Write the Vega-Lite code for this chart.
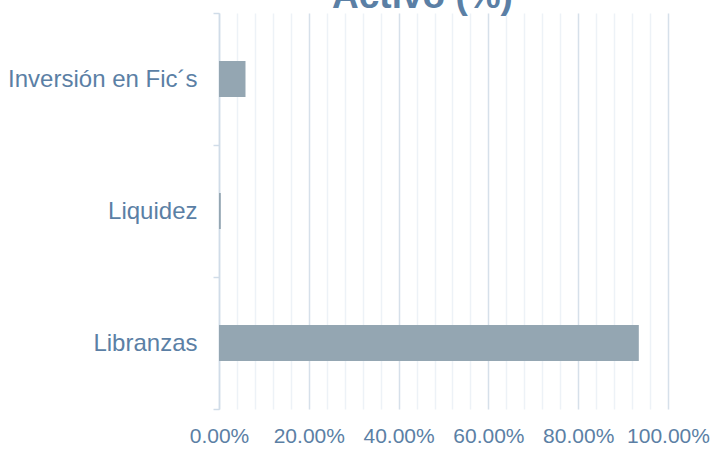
{
  "$schema": "https://vega.github.io/schema/vega-lite/v6.json",
  "autosize": {"type": "none"},
  "width": 449,
  "height": 396,
  "padding": {"left": 219, "top": 13, "right": 42, "bottom": 42},
  "background": "#ffffff",
  "title": {
    "text": "Activo (%)",
    "fontSize": 37,
    "fontWeight": "bold",
    "font": "Liberation Sans",
    "color": "#5b7fa5",
    "baseline": "alphabetic",
    "offset": 0,
    "dy": 44,
    "dx": -21
  },
  "data": {
    "values": [
      {"categoria": "Inversión en Fic´s", "valor": 0.059},
      {"categoria": "Liquidez", "valor": 0.004},
      {"categoria": "Libranzas", "valor": 0.935}
    ]
  },
  "mark": {"type": "bar", "color": "#94a6b2", "height": {"band": 0.273}},
  "encoding": {
    "y": {
      "field": "categoria",
      "type": "nominal",
      "sort": ["Inversión en Fic´s", "Liquidez", "Libranzas"],
      "scale": {"paddingInner": 0, "paddingOuter": 0},
      "axis": {
        "title": null,
        "labelFont": "Liberation Sans",
        "labelFontSize": 24,
        "labelColor": "#5b7fa5",
        "labelPadding": 16,
        "labelLimit": 300,
        "tickSize": 6,
        "tickColor": "#d0dce8",
        "tickWidth": 1.5,
        "tickBand": "extent",
        "domainColor": "#d0dce8",
        "domainWidth": 1.5,
        "grid": false
      }
    },
    "x": {
      "field": "valor",
      "type": "quantitative",
      "scale": {"domain": [0, 1], "nice": false},
      "axis": {
        "title": null,
        "values": [0, 0.04, 0.08, 0.12, 0.16, 0.2, 0.24, 0.28, 0.32, 0.36, 0.4, 0.44, 0.48, 0.52, 0.56, 0.6, 0.64, 0.68, 0.72, 0.76, 0.8, 0.84, 0.88, 0.92, 0.96, 1.0],
        "labelExpr": "round(datum.value*100) % 20 === 0 ? format(datum.value, '.2%') : ''",
        "labelFont": "Liberation Sans",
        "labelFontSize": 21,
        "labelColor": "#5b7fa5",
        "labelBaseline": "alphabetic",
        "labelPadding": 33,
        "labelOverlap": false,
        "labelFlush": false,
        "labelAlign": "center",
        "ticks": false,
        "tickSize": 0,
        "domain": false,
        "grid": true,
        "gridWidth": 1.5,
        "gridColor": {"condition": {"test": "round(datum.value*100) % 20 === 0", "value": "#d6e0ea"}, "value": "#edf2f7"}
      }
    }
  },
  "config": {"view": {"stroke": null}}
}
